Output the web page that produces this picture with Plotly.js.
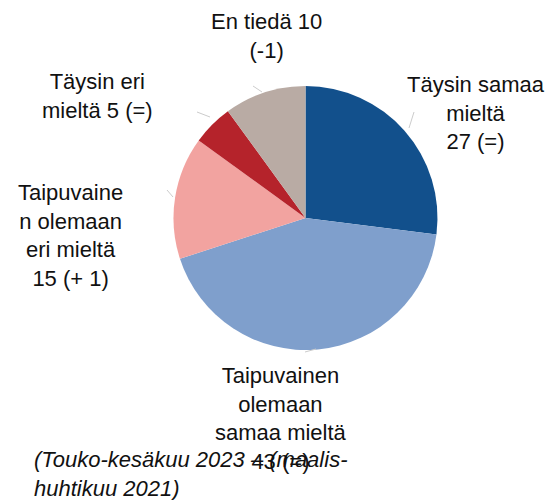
<!DOCTYPE html>
<html>
<head>
<meta charset="utf-8">
<script src="https://cdn.plot.ly/plotly-3.0.1.min.js"></script>
<style>
  body { margin: 0; background: #fff; }
  #chart { width: 551px; height: 500px; }
</style>
</head>
<body>
<div id="chart"></div>
<script>
var categories = ["Täysin samaa mieltä", "Taipuvainen olemaan samaa mieltä", "Taipuvainen olemaan eri mieltä", "Täysin eri mieltä", "En tiedä"];
var values = [27, 43, 15, 5, 10];
var changes = ["(=)", "(=)", "(+ 1)", "(=)", "(-1)"];
var labelText = [
    "Täysin samaa<br>mieltä<br>" + values[0] + " " + changes[0],
    "Taipuvainen<br>olemaan<br>samaa mieltä<br>" + values[1] + " " + changes[1],
    "Taipuvaine<br>n olemaan<br>eri mieltä<br>" + values[2] + " " + changes[2],
    "Täysin eri<br>mieltä " + values[3] + " " + changes[3],
    "En tiedä " + values[4] + "<br>" + changes[4]
];
var footnote = "(Touko-kesäkuu 2023 – (maalis-<br>huhtikuu 2021)";

var colors = ["#12508c", "#7f9fcc", "#f2a3a0", "#b5232b", "#b9aba4"];
// label block centres in pixels (x, y from top)
var labelPos = [[476, 113], [281, 418], [70, 235], [97, 96], [266, 36]];
var W = 551, H = 500;

var trace = {
    type: 'pie',
    labels: categories,
    values: values,
    sort: false,
    direction: 'clockwise',
    rotation: 0,
    textinfo: 'none',
    hoverinfo: 'label+value',
    marker: { colors: colors, line: { width: 0 } },
    domain: { x: [173.5 / W, 437.5 / W], y: [1 - 350 / H, 1 - 86 / H] },
    showlegend: false
};

var annotations = labelText.map(function(t, i) {
    return {
        text: t,
        xref: 'paper', yref: 'paper',
        x: labelPos[i][0] / W, y: 1 - labelPos[i][1] / H,
        xanchor: 'center', yanchor: 'middle',
        align: 'center',
        showarrow: false,
        font: { family: 'Liberation Sans, Arial, sans-serif', size: 22, color: '#111' }
    };
});
annotations.push({
    text: '<i>' + footnote + '</i>',
    xref: 'paper', yref: 'paper',
    x: 32 / W, y: 1 - 474 / H,
    xanchor: 'left', yanchor: 'middle',
    align: 'left',
    showarrow: false,
    font: { family: 'Liberation Sans, Arial, sans-serif', size: 22, color: '#111' }
});

// faint leader lines
var leaders = [[409, 128, 414, 112], [305, 352, 316, 349], [167, 190, 173, 197], [197, 112, 210, 117], [253, 86, 262, 92]];
var shapes = leaders.map(function(l) {
    return {
        type: 'line', xref: 'paper', yref: 'paper',
        x0: l[0] / W, y0: 1 - l[1] / H, x1: l[2] / W, y1: 1 - l[3] / H,
        line: { color: '#cccccc', width: 1 }
    };
});

var layout = {
    width: W,
    height: H,
    margin: { l: 0, r: 0, t: 0, b: 0 },
    paper_bgcolor: '#ffffff',
    annotations: annotations,
    shapes: shapes
};

Plotly.newPlot('chart', [trace], layout, { displayModeBar: false, staticPlot: true });
</script>
</body>
</html>
